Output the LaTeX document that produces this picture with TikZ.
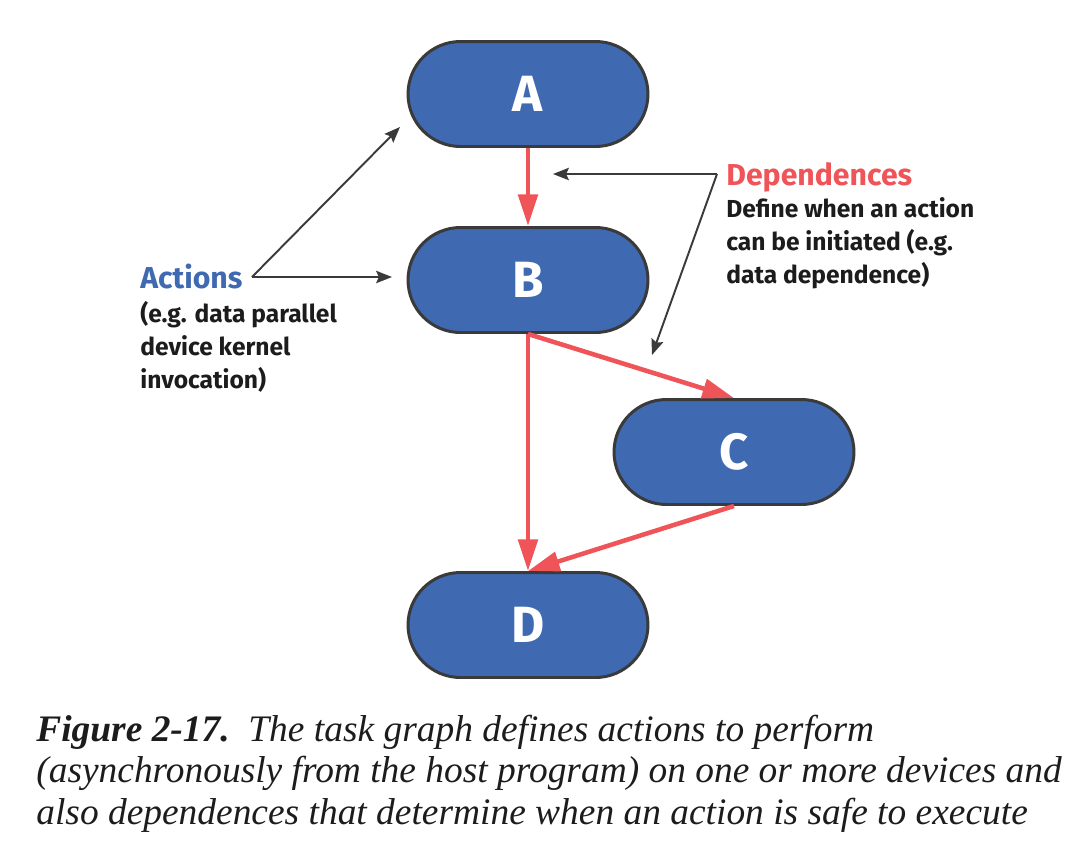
\documentclass[tikz,border=0pt]{standalone}
\usepackage{fontspec}
\setmainfont{Liberation Serif}
\setsansfont{Fira Sans}
\usetikzlibrary{arrows.meta,positioning}
\definecolor{taskblue}{HTML}{3F69B1}
\definecolor{deplink}{HTML}{EF5459}
\definecolor{rim}{HTML}{3A3A3A}
\definecolor{inkdark}{HTML}{1C1C1C}

\begin{document}
\begin{tikzpicture}[x=0.02cm, y=-0.02cm,
	task/.style={rectangle, rounded corners=1.05cm, draw=rim, line width=1.7pt, fill=taskblue, minimum width=4.8cm, minimum height=2.1cm, text=white, font=\sffamily\bfseries\fontsize{29}{30}\selectfont},
	deparrow/.style={draw=deplink, line width=2.6pt, -{Triangle[length=18pt,width=11pt]}},
	notearrow/.style={draw=rim, line width=1.1pt, -{Stealth[length=9pt,width=7pt,inset=1.5pt]}},
	headtext/.style={inner sep=0pt, anchor=west, font=\sffamily\bfseries\fontsize{17.2}{20}\selectfont},
	notetext/.style={inner sep=0pt, align=left, text=inkdark, font=\sffamily\bfseries\fontsize{14}{18.7}\selectfont}]
	\useasboundingbox (0,0) rectangle (1090,863);
	
	\node[task] (A) at (528,94){A};
	\node[task] (B) at (528,280){B};
	\node[task] (C) at (734,452){C};
	\node[task] (D) at (528,625){D};
	
	\path (A) edge[deparrow] (B);
	\path (B.south) edge[deparrow] (C.north);
	\path (B) edge[deparrow] (D);
	\path (C.south) edge[deparrow] (D.north);
	
	\node[headtext, text=taskblue] (actions) at (140,276){Actions};
	\node[notetext, below right=7pt and 0pt of actions.south west] (actdesc){(e.g. data parallel\\device kernel\\invocation)};
	\coordinate (actpt) at (252,277);
	\coordinate (actA) at (400,127);
	\coordinate (actB) at (392,277);
	\path (actpt) edge[notearrow] (actA);
	\path (actpt) edge[notearrow] (actB);
	
	\node[headtext, text=deplink] (depends) at (726,177){Dependences};
	\node[notetext, below right=3pt and 0pt of depends.south west] (depdesc){Define when an action\\can be initiated (e.g.\\data dependence)};
	\coordinate (deppt) at (717,174);
	\coordinate (depA) at (553,174);
	\coordinate (depB) at (652,355);
	\path (deppt) edge[notearrow] (depA);
	\path (deppt) edge[notearrow] (depB);
	
	\node[inner sep=0pt, anchor=base west, align=left, text=inkdark, font=\fontsize{21.3}{23.5}\selectfont] (caption) at (36,824){\textbf{\textit{Figure 2-17.}}\enspace\textit{The task graph defines actions to perform}\\\textit{(asynchronously from the host program) on one or more devices and}\\\textit{also dependences that determine when an action is safe to execute}};
\end{tikzpicture}
\end{document}
